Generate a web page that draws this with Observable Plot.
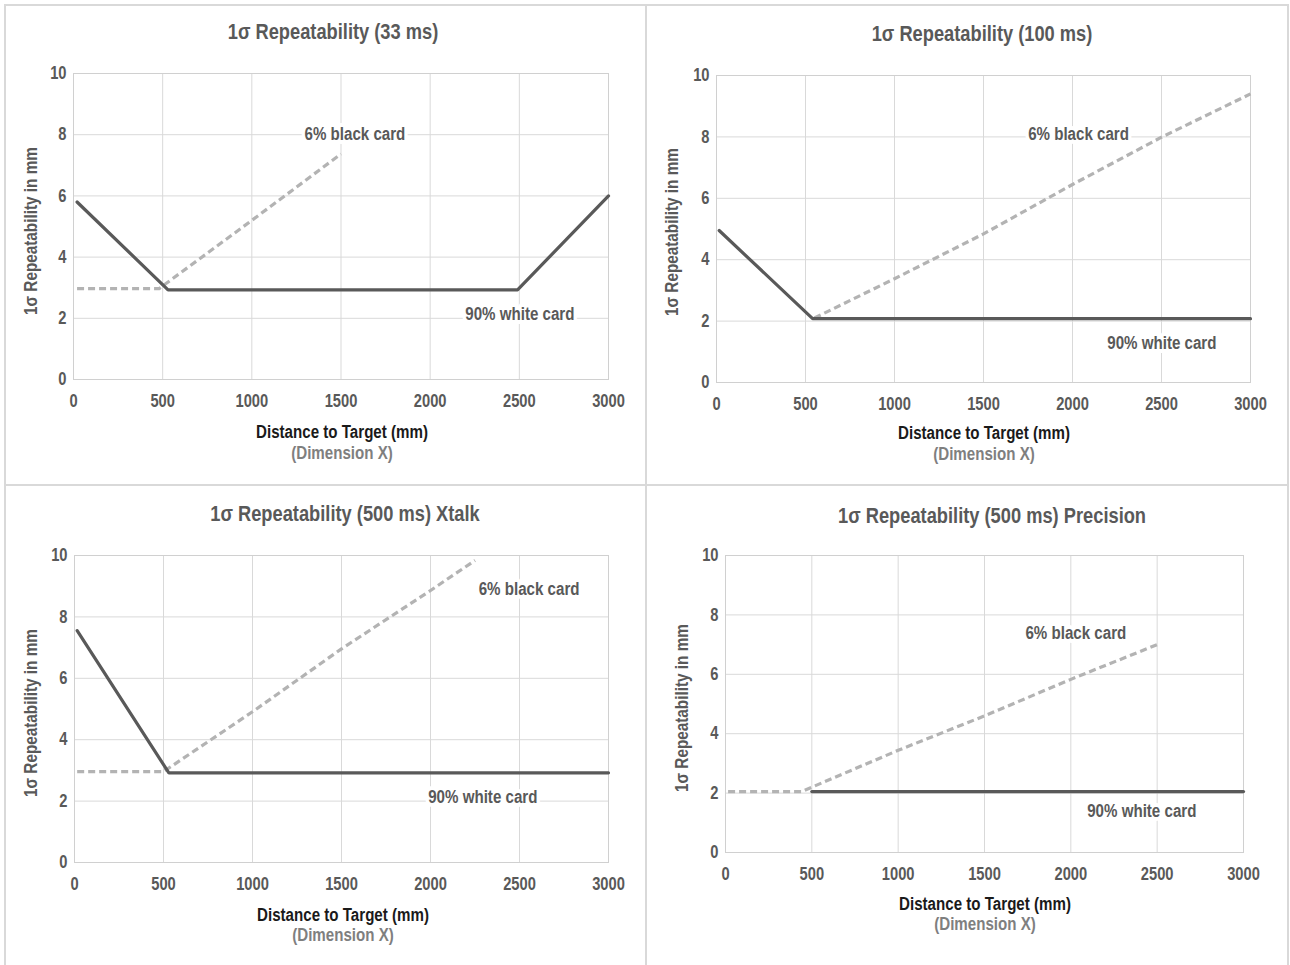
<!DOCTYPE html>
<html>
<head>
<meta charset="utf-8">
<script src="https://cdn.jsdelivr.net/npm/d3@7"></script>
<script src="https://cdn.jsdelivr.net/npm/@observablehq/plot@0.6"></script>
<style>
  html, body { margin: 0; padding: 0; background: #ffffff; }
  #root { position: relative; width: 1290px; height: 965px; overflow: hidden; background: #ffffff;
    font-family: "Liberation Sans", Arial, sans-serif; font-weight: bold; }
  .rule { position: absolute; background: #d9d9d9; }
  .txt { position: absolute; white-space: nowrap; line-height: 1; }
  .title { font-size: 21.5px; color: #595959; transform: translate(-50%, -50%) scaleX(0.85); }
  .xlab { font-size: 18px; color: #1a1a1a; transform: translate(-50%, -50%) scaleX(0.84); }
  .xsub { font-size: 18px; color: #7f7f7f; transform: translate(-50%, -50%) scaleX(0.84); }
  .ylab { font-size: 18px; color: #595959; transform: translate(-50%, -50%) rotate(-90deg) scaleX(0.85); }
  .plot { position: absolute; }
</style>
</head>
<body>
<div id="root"></div>
<script>
const FONT = '"Liberation Sans", Arial, sans-serif';
const NARROW = 0.84;

// ---- shared axis ticks and text ----
const xTicks = [0, 500, 1000, 1500, 2000, 2500, 3000];
const yTicks = [0, 2, 4, 6, 8, 10];
const titles = [
  "1σ Repeatability (33 ms)",
  "1σ Repeatability (100 ms)",
  "1σ Repeatability (500 ms) Xtalk",
  "1σ Repeatability (500 ms) Precision"
];
const yLabel = "1σ Repeatability in mm";
const xLabel = "Distance to Target (mm)";
const xSub = "(Dimension X)";
const seriesNames = ["6% black card", "90% white card"];

// ---- panel 1: 33 ms ----
const p1WhiteX = [20, 530, 2490, 3000];
const p1WhiteY = [5.8, 2.93, 2.93, 6.0];
const p1BlackX = [20, 480, 1000, 1500];
const p1BlackY = [2.97, 2.97, 5.2, 7.37];
const p1LabelX = [1578, 2503];
const p1LabelY = [8.0, 2.12];

// ---- panel 2: 100 ms ----
const p2WhiteX = [15, 540, 3000];
const p2WhiteY = [4.95, 2.08, 2.08];
const p2BlackX = [550, 1000, 1500, 2000, 2500, 3000];
const p2BlackY = [2.1, 3.38, 4.84, 6.45, 7.99, 9.4];
const p2LabelX = [2034, 2502];
const p2LabelY = [8.08, 1.28];

// ---- panel 3: 500 ms Xtalk ----
const p3WhiteX = [15, 530, 3000];
const p3WhiteY = [7.55, 2.92, 2.92];
const p3BlackX = [15, 500, 1000, 1500, 2000, 2250];
const p3BlackY = [2.96, 2.96, 4.91, 6.96, 8.86, 9.84];
const p3LabelX = [2554, 2294];
const p3LabelY = [8.91, 2.12];

// ---- panel 4: 500 ms Precision ----
const p4WhiteX = [500, 3000];
const p4WhiteY = [2.05, 2.05];
const p4BlackX = [15, 440, 500, 1000, 1500, 2000, 2500];
const p4BlackY = [2.05, 2.05, 2.2, 3.44, 4.6, 5.83, 7.0];
const p4LabelX = [2029, 2411];
const p4LabelY = [7.38, 1.40];

// ---- layout (page pixels) ----
const layout = [
  { left: 0,   top: 50,  width: 646, height: 380, mL: 73, mR: 38, mT: 23, mB: 51, pad: 15,
    title: [333, 33], ylab: [31, 231], xlab: [342, 432], xsub: [342, 453] },
  { left: 646, top: 50,  width: 642, height: 380, mL: 70, mR: 38, mT: 25, mB: 48, pad: 15,
    title: [982, 35], ylab: [672, 232], xlab: [984, 433], xsub: [984, 454] },
  { left: 0,   top: 532, width: 646, height: 380, mL: 74, mR: 38, mT: 23, mB: 50, pad: 15,
    title: [345, 515], ylab: [31, 713], xlab: [343, 915], xsub: [343, 935] },
  { left: 646, top: 532, width: 642, height: 380, mL: 79, mR: 45, mT: 23, mB: 60, pad: 15,
    title: [992, 517], ylab: [682, 708], xlab: [985, 904], xsub: [985, 924] }
];

const panels = [
  [p1WhiteX, p1WhiteY, p1BlackX, p1BlackY, p1LabelX, p1LabelY],
  [p2WhiteX, p2WhiteY, p2BlackX, p2BlackY, p2LabelX, p2LabelY],
  [p3WhiteX, p3WhiteY, p3BlackX, p3BlackY, p3LabelX, p3LabelY],
  [p4WhiteX, p4WhiteY, p4BlackX, p4BlackY, p4LabelX, p4LabelY]
];

const root = document.getElementById("root");

function rule(l, t, w, h) {
  const d = document.createElement("div");
  d.className = "rule";
  Object.assign(d.style, { left: l + "px", top: t + "px", width: w + "px", height: h + "px" });
  root.appendChild(d);
}
rule(4, 4, 1285, 2);
rule(4, 484, 1285, 2);
rule(4, 4, 2, 961);
rule(645, 4, 2, 961);
rule(1287, 4, 2, 961);

function label(cls, text, pos) {
  const d = document.createElement("div");
  d.className = "txt " + cls;
  d.textContent = text;
  d.style.left = pos[0] + "px";
  d.style.top = pos[1] + "px";
  root.appendChild(d);
}

panels.forEach(([wx, wy, bx, by, lx, ly], i) => {
  const L = layout[i];
  const white = wx.map((x, j) => ({ x, y: wy[j] }));
  const black = bx.map((x, j) => ({ x, y: by[j] }));
  const notes = seriesNames.map((t, j) => ({ x: lx[j], y: ly[j], t }));

  const svg = Plot.plot({
    width: L.width,
    height: L.height,
    marginLeft: L.mL, marginRight: L.mR, marginTop: L.mT, marginBottom: L.mB,
    style: { fontFamily: FONT, fontSize: "17.5px", fontWeight: "bold", color: "#595959",
             background: "transparent", overflow: "visible" },
    x: { domain: [0, 3000] },
    y: { domain: [0, 10] },
    marks: [
      Plot.gridX(xTicks, { stroke: "#d9d9d9", strokeOpacity: 1, strokeWidth: 1 }),
      Plot.gridY(yTicks, { stroke: "#d9d9d9", strokeOpacity: 1, strokeWidth: 1 }),
      Plot.frame({ stroke: "#d0d0d0", strokeWidth: 1 }),
      Plot.axisX(xTicks, { tickSize: 0, tickPadding: L.pad, tickFormat: d3.format("d"),
                           label: null, fill: "#595959" }),
      Plot.axisY(yTicks, { tickSize: 0, tickPadding: 7, tickFormat: d3.format("d"),
                           label: null, fill: "#595959" }),
      Plot.line(black, { x: "x", y: "y", stroke: "#b3b3b3", strokeWidth: 3.2,
                         strokeDasharray: "7,4", strokeLinecap: "butt" }),
      Plot.line(white, { x: "x", y: "y", stroke: "#595959", strokeWidth: 3.2,
                         strokeLinejoin: "miter" }),
      Plot.text(notes, { x: "x", y: "y", text: "t", fill: "#595959", stroke: "white",
                         strokeWidth: 8, fontSize: 18, fontWeight: "bold",
                         fontFamily: FONT })
    ]
  });
  svg.classList.add("plot");
  svg.style.position = "absolute";
  svg.style.left = L.left + "px";
  svg.style.top = L.top + "px";
  root.appendChild(svg);

  // condense glyphs to mimic a narrow typeface
  svg.querySelectorAll("text").forEach(t => {
    const w = t.getComputedTextLength();
    if (w > 0) {
      t.setAttribute("textLength", (w * NARROW).toFixed(2));
      t.setAttribute("lengthAdjust", "spacingAndGlyphs");
    }
  });

  label("title", titles[i], L.title);
  label("ylab", yLabel, L.ylab);
  label("xlab", xLabel, L.xlab);
  label("xsub", xSub, L.xsub);
});
</script>
</body>
</html>
